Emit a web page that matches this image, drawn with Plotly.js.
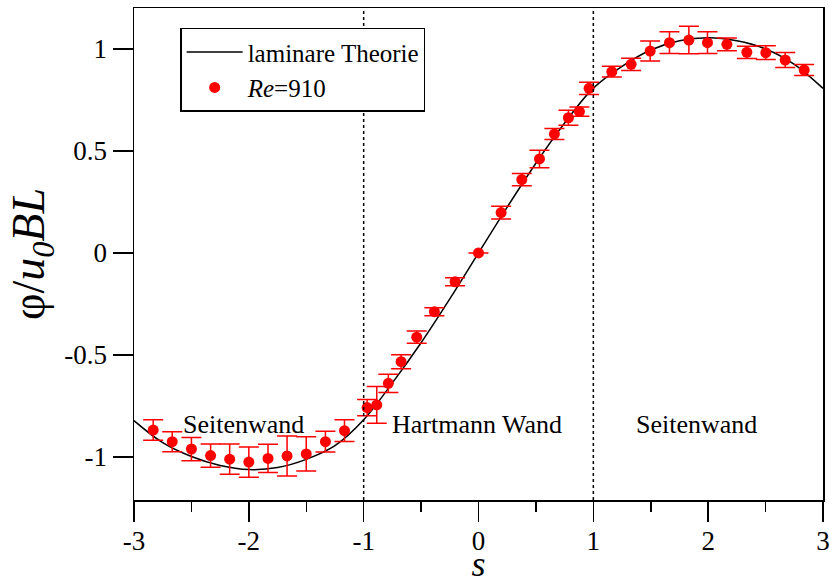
<!DOCTYPE html>
<html>
<head>
<meta charset="utf-8">
<script src="https://cdn.plot.ly/plotly-3.0.1.min.js"></script>
<style>html,body{margin:0;padding:0;background:#fff;}#chart{width:829px;height:581px;}</style>
</head>
<body>
<div id="chart"></div>
<script>
// Theory curve (laminare Theorie)
var theoryS = [-3, -2.75, -2.5, -2.25, -2, -1.75, -1.5, -1.25, -1, -0.75, -0.5, -0.25, 0,
               0.25, 0.5, 0.75, 1, 1.25, 1.5, 1.75, 2, 2.25, 2.5, 2.75, 3];
var theoryPhi = [-0.822, -0.93, -0.998, -1.042, -1.062, -1.052, -1.012, -0.945, -0.818, -0.637, -0.44, -0.225, 0,
                 0.225, 0.44, 0.637, 0.808, 0.915, 0.995, 1.04, 1.055, 1.04, 1.0, 0.925, 0.807];

// Measurements Re=910
var dataS = [-2.833, -2.667, -2.5, -2.333, -2.167, -2.0, -1.833, -1.667, -1.5, -1.333, -1.167,
             -0.97, -0.886, -0.785, -0.674, -0.538, -0.384, -0.204, 0, 0.197, 0.377, 0.531, 0.661, 0.783, 0.879, 0.963,
             1.161, 1.329, 1.495, 1.663, 1.832, 1.994, 2.163, 2.337, 2.502, 2.671, 2.836];
var dataPhi = [-0.868, -0.925, -0.961, -0.993, -1.011, -1.025, -1.007, -0.995, -0.985, -0.925, -0.871,
               -0.758, -0.745, -0.639, -0.533, -0.413, -0.288, -0.141, 0, 0.198, 0.36, 0.461, 0.583, 0.663, 0.693, 0.807,
               0.889, 0.925, 0.99, 1.031, 1.044, 1.031, 1.023, 0.984, 0.982, 0.946, 0.897];
var dataErr = [0.05, 0.049, 0.057, 0.057, 0.074, 0.074, 0.069, 0.098, 0.084, 0.051, 0.053,
               0.04, 0.09, 0.045, 0.034, 0.03, 0.02, 0.02, 0, 0.031, 0.03, 0.043, 0.027, 0.037, 0.023, 0.03,
               0.026, 0.03, 0.049, 0.053, 0.067, 0.053, 0.031, 0.03, 0.034, 0.037, 0.027];

var xTickVals = [-3, -2, -1, 0, 1, 2, 3];
var xTickText = ['-3', '-2', '-1', '0', '1', '2', '3'];
var yTickVals = [-1, -0.5, 0, 0.5, 1];
var yTickText = ['-1', '-0.5', '0', '0.5', '1'];

var regionLabels = ['Seitenwand', 'Hartmann Wand', 'Seitenwand'];
var regionS = [-2.05, -0.01, 1.9];
var regionPhi = [-0.84, -0.84, -0.84];
var dividerS = [-1, 1];

var FONT = 'Liberation Serif, Times New Roman, serif';

var traces = [
  {
    x: theoryS, y: theoryPhi, type: 'scatter', mode: 'lines',
    line: {color: '#000', width: 1.5, shape: 'spline', smoothing: 1},
    name: 'laminare Theorie'
  },
  {
    x: dataS, y: dataPhi, type: 'scatter', mode: 'markers',
    marker: {color: '#ff0000', size: 11},
    error_y: {type: 'data', array: dataErr, visible: true, color: '#ff0000', thickness: 1.5, width: 10},
    name: '<i>Re</i>=910'
  }
];

var shapes = dividerS.map(function (s) {
  return {type: 'line', xref: 'x', yref: 'paper', x0: s, x1: s, y0: 0, y1: 1,
          line: {color: '#000', width: 1.5, dash: 'dot'}};
});

var annotations = regionLabels.map(function (t, i) {
  return {x: regionS[i], y: regionPhi[i], xref: 'x', yref: 'y', text: t, showarrow: false,
          font: {family: FONT, size: 26, color: '#000'}};
});

var layout = {
  width: 829, height: 581,
  margin: {l: 134, r: 6, t: 8, b: 81},
  paper_bgcolor: '#fff', plot_bgcolor: '#fff',
  font: {family: FONT, color: '#000', size: 25},
  showlegend: true,
  legend: {
    x: 0.067, y: 0.96, xanchor: 'left', yanchor: 'top',
    bgcolor: '#fff', bordercolor: '#000', borderwidth: 1.5,
    font: {family: FONT, size: 25, color: '#000'},
    itemwidth: 56,
    tracegroupgap: 0
  },
  xaxis: {
    range: [-3, 3], tickvals: xTickVals, ticktext: xTickText,
    ticks: 'outside', ticklen: 20, tickwidth: 1.5, tickcolor: '#000',
    minor: {dtick: 0.5, ticks: 'outside', ticklen: 10, tickwidth: 1.5, tickcolor: '#000'},
    showline: true, linecolor: '#000', linewidth: 1.5, mirror: true,
    showgrid: false, zeroline: false,
    ticklabeloverflow: 'allow', ticklabelstandoff: -4,
    tickfont: {family: FONT, size: 27, color: '#000'},
    title: {text: '<i>s</i>', font: {family: FONT, size: 36, color: '#000'}, standoff: 0}
  },
  yaxis: {
    range: [-1.211, 1.201], tickvals: yTickVals, ticktext: yTickText,
    ticks: 'outside', ticklen: 20, tickwidth: 1.5, tickcolor: '#000',
    showline: true, linecolor: '#000', linewidth: 1.5, mirror: true,
    showgrid: false, zeroline: false,
    tickfont: {family: FONT, size: 27, color: '#000'},
    title: {text: '\u03c6/<i>u</i><sub><i>0</i></sub><i>BL</i>', font: {family: FONT, size: 46, color: '#000'}, standoff: 5}
  },
  shapes: shapes,
  annotations: annotations
};

Plotly.newPlot('chart', traces, layout, {displayModeBar: false, staticPlot: true}).then(function () {
  // nudge the x-axis title a few pixels down so it sits below the tick labels as in the reference
  var t = document.querySelector('.g-xtitle text');
  if (t) {
    var y = parseFloat(t.getAttribute('y'));
    t.setAttribute('y', y + 3);
  }
});
</script>
</body>
</html>
